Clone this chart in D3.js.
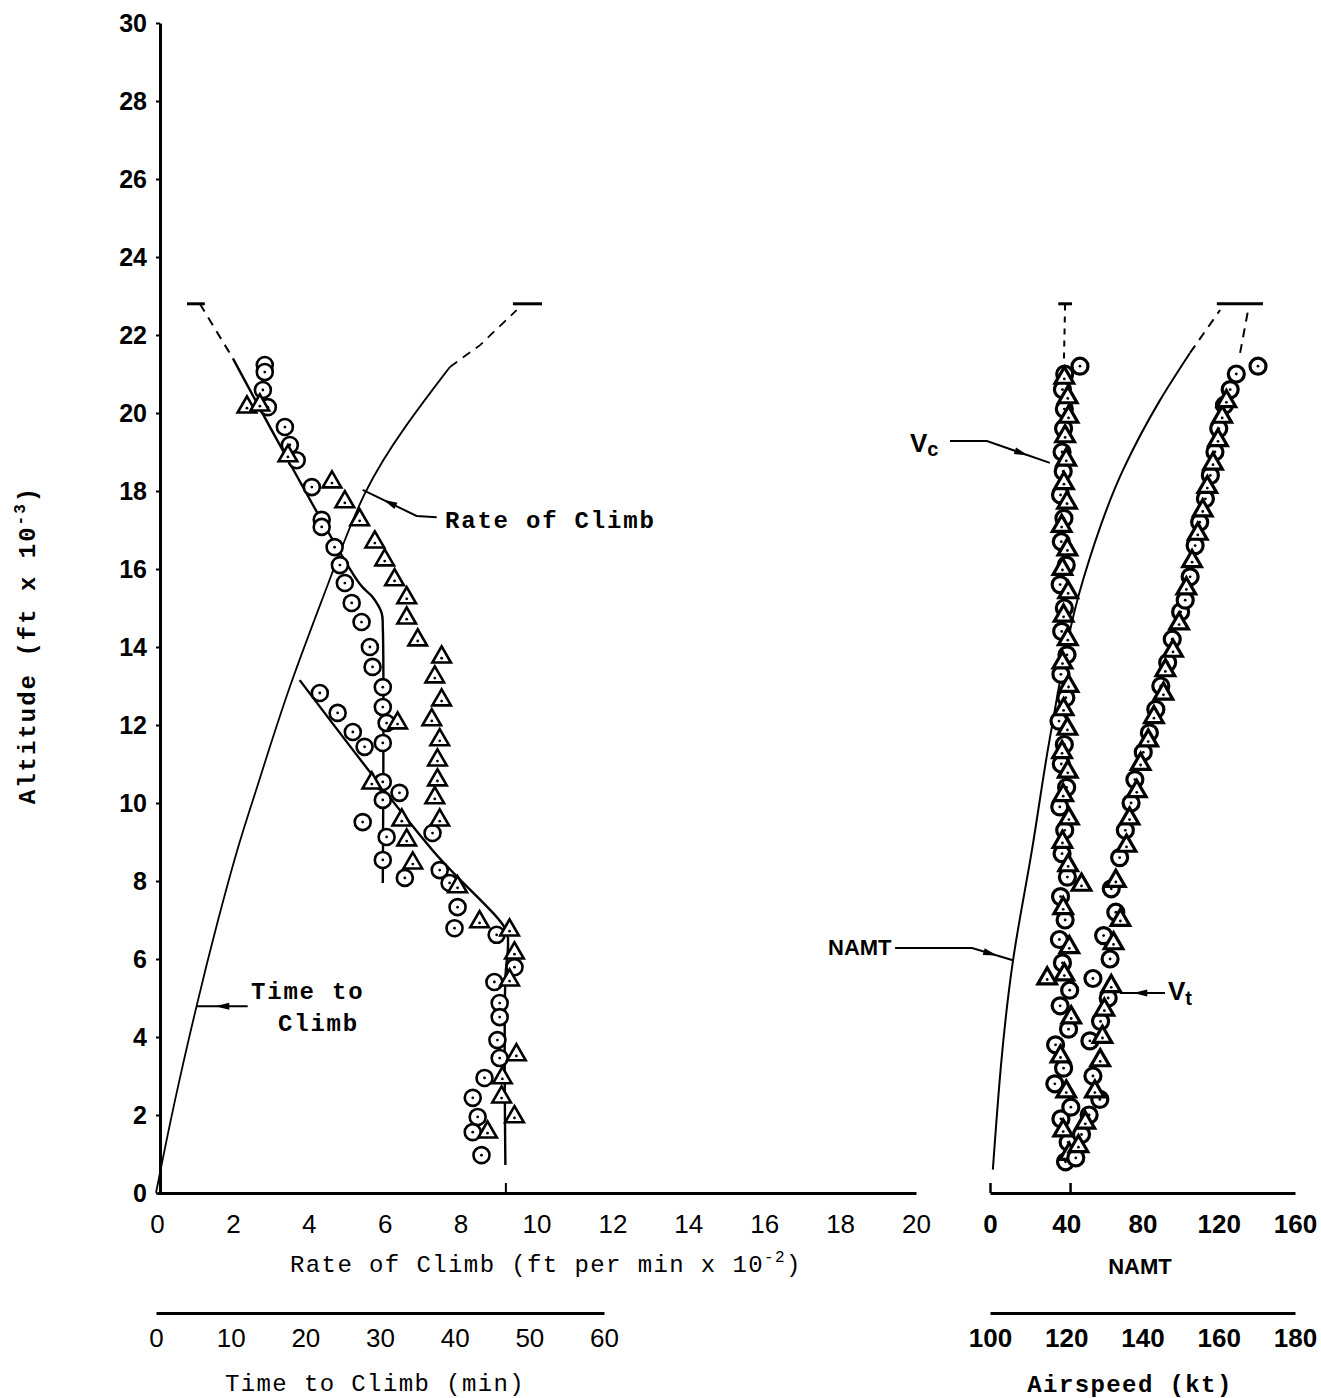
<!DOCTYPE html>
<html><head><meta charset="utf-8">
<script src="https://cdn.jsdelivr.net/npm/d3@7"></script>
<style>body{margin:0;background:#fff}</style>
</head><body><svg id="c" width="1321" height="1398"></svg>
<script>
// ---------- tick labels ----------
const altTicks  = [0,2,4,6,8,10,12,14,16,18,20,22,24,26,28,30];
const rateTicks = [0,2,4,6,8,10,12,14,16,18,20];
const timeTicks = [0,10,20,30,40,50,60];
const namtTicks = [0,40,80,120,160];
const airTicks  = [100,120,140,160,180];

// ---------- left panel: rate of climb (ft/min x 1e-2) vs altitude (ft x 1e-3) ----------
const rocUpperLine = [[2.0,21.4],[5.34,15.62],[5.68,15.28],[5.92,14.87],[5.95,14.5],[5.95,7.95]];
const rocUpperDash = [[1.13,22.8],[2.0,21.4]];
const rocUpperCap  = [[0.79,22.8],[1.26,22.8]];
const rocLowerLine = [[3.76,13.15],[7.26,8.79],[9.2,6.74],[9.25,6.4],[9.18,5.5],[9.18,0.72]];

const rocCircles = [
 [2.84,21.23],[2.84,21.05],[2.79,20.59],[2.92,20.15],[3.37,19.64],[3.5,19.18],[3.68,18.79],
 [4.08,18.10],[4.34,17.26],[4.34,17.08],[4.68,16.56],[4.82,16.10],[4.95,15.64],[5.13,15.13],
 [5.39,14.64],[5.61,14.0],[5.68,13.49],[5.95,12.97],[5.95,12.46],[6.05,12.05],[5.95,11.54],
 [5.95,10.54],[5.95,10.08],[5.42,9.51],[6.05,9.13],[5.95,8.54],
 [4.29,12.82],[4.76,12.31],[5.16,11.82],[5.47,11.44],[6.39,10.26],[7.26,9.23],[7.45,8.28],
 [6.53,8.08],[7.71,7.95],[7.92,7.33],[7.84,6.79],[8.95,6.62],[9.42,5.79],[8.89,5.41],
 [9.03,4.87],[9.03,4.51],[8.97,3.92],[9.03,3.46],[8.63,2.95],[8.32,2.44],[8.45,1.95],
 [8.32,1.56],[8.55,0.97]
];
const rocTriangles = [
 [2.37,20.15],[2.71,20.2],[3.45,18.9],[4.61,18.23],[4.95,17.72],[5.34,17.26],[5.74,16.69],
 [6.0,16.23],[6.26,15.72],[6.58,15.26],[6.58,14.74],[6.87,14.18],[7.5,13.74],[7.32,13.23],
 [7.5,12.64],[7.24,12.13],[7.45,11.62],[7.39,11.1],[7.39,10.59],[7.32,10.13],[7.45,9.56],
 [6.34,12.05],[5.66,10.51],[6.45,9.56],[6.58,9.05],[6.74,8.46],[7.92,7.85],[8.5,6.95],
 [9.29,6.74],[9.42,6.15],[9.29,5.46],[9.47,3.54],[9.1,2.95],[9.08,2.46],[9.42,1.95],[8.71,1.56]
];

// ---------- left panel: time to climb (min) ----------
const timeCurve = [[0,0],[2.28,2.2],[5.49,4.87],[8.17,6.92],[11.2,9.05],[13.4,10.3],[17.6,12.9],
 [23.29,15.72],[27.71,18.03],[33.6,19.74],[39.36,21.18]];
const timeDash = [[39.36,21.18],[43.4,21.74],[48.3,22.64]];
const timeCap  = [[47.8,22.8],[51.7,22.8]];

// ---------- right panel: NAMT and airspeed (kt) ----------
const namtCurve = [[1.5,0.6],[12.1,5.97],[22.0,8.79],[31.5,11.69],[48.8,15.72],[69.8,18.54],[89.2,20.33],[104.9,21.54]];
const namtDash  = [[104.9,21.54],[120.7,22.64]];
const vcDash = [[119.4,21.4],[119.7,22.8]];
const vcCap  = [[117.9,22.8],[121.5,22.8]];
const vtDash = [[165.6,21.54],[167.7,22.64]];
const vtCap  = [[159.5,22.8],[171.6,22.8]];

const vcCircles = [
 [119.8,0.8],[120.5,1.3],[118.6,1.9],[121.2,2.2],[117.0,2.8],[119.3,3.2],[117.2,3.8],[120.6,4.2],
 [118.4,4.8],[120.9,5.2],[119.0,5.9],[118.2,6.5],[119.7,7.0],[118.5,7.6],[120.3,8.1],[118.9,8.7],
 [119.6,9.3],[118.3,9.9],[120.1,10.4],[118.7,11.0],[119.5,11.5],[118.1,12.1],[119.9,12.7],[118.6,13.3],
 [120.2,13.8],[118.8,14.4],[119.5,15.0],[118.4,15.6],[120.0,16.1],[118.7,16.7],[119.4,17.3],[118.5,17.9],
 [119.2,18.5],[118.9,19.0],[119.3,19.6],[119.5,20.1],[119.0,20.6],[119.6,21.0],[123.6,21.2]
];
const vcTriangles = [
 [120.8,1.0],[119.2,1.6],[120.0,2.6],[118.5,3.5],[121.3,4.5],[119.5,5.6],[115.0,5.5],[120.8,6.3],
 [119.2,7.3],[124.0,7.9],[120.5,8.4],[119.0,9.0],[120.7,9.6],[119.2,10.2],[120.4,10.8],[118.9,11.3],
 [120.3,11.9],[119.3,12.4],[120.6,13.0],[119.0,13.6],[120.4,14.2],[119.3,14.8],[120.5,15.4],[119.0,16.0],
 [120.3,16.5],[118.8,17.1],[120.2,17.7],[119.4,18.2],[120.0,18.8],[119.7,19.4],[120.6,19.9],[120.4,20.4],[119.5,20.9]
];
const vtCircles = [
 [122.5,0.9],[124.0,1.5],[126.0,2.0],[128.8,2.4],[127.0,3.0],[126.2,3.9],[129.0,4.4],[131.0,5.0],
 [127.0,5.5],[131.5,6.0],[129.8,6.6],[133.0,7.2],[131.8,7.8],[134.0,8.6],[135.5,9.3],[137.0,10.0],
 [138.0,10.6],[140.2,11.3],[141.8,11.8],[143.5,12.4],[144.8,13.0],[146.6,13.6],[147.8,14.2],[150.0,14.9],
 [151.2,15.2],[152.5,15.8],[153.8,16.6],[155.0,17.2],[156.5,17.8],[157.8,18.4],[159.0,19.0],[160.0,19.6],
 [161.5,20.2],[163.0,20.6],[164.6,21.0],[170.3,21.2]
];
const vtTriangles = [
 [123.2,1.2],[125.0,1.8],[127.5,2.6],[128.9,3.4],[129.5,4.0],[130.0,4.7],[131.8,5.3],[132.4,6.4],
 [134.2,7.0],[133.0,8.0],[135.8,8.9],[136.6,9.6],[138.5,10.3],[139.5,11.0],[141.5,11.6],[143.0,12.2],
 [145.5,12.8],[146.0,13.4],[148.0,13.9],[149.6,14.6],[151.5,15.5],[153.0,16.2],[154.5,16.9],[155.8,17.5],
 [157.0,18.1],[158.5,18.7],[159.8,19.3],[160.9,19.9],[162.0,20.3]
];

// ---------- annotation leaders (data units) ----------
const rocLeader  = [[7.37,17.33],[6.84,17.36],[5.42,18.03]];   // rate units
const timeLeader = [[2.39,4.79],[1.05,4.79]];                  // rate units
const vcLeader   = [[89.5,19.28],[99.2,19.28],[115.7,18.72]];  // airspeed units
const namtLeader = [[75.1,6.28],[95.3,6.28],[106.0,5.97]];     // airspeed units
const vtLeader   = [[145.9,5.13],[134.1,5.13]];                // airspeed units

// ================= drawing =================
const svg = d3.select('#c');
const y  = d3.scaleLinear([0,30],[1193,23]);
const xR = d3.scaleLinear([0,20],[157,916]);
const xT = d3.scaleLinear([0,60],[156,604]);
const xN = d3.scaleLinear([0,160],[990,1295]);
const xA = d3.scaleLinear([100,180],[990,1295]);

const tickFont = "'Liberation Sans Narrow','Arial Narrow',sans-serif";
const monoFont = "'Liberation Mono','DejaVu Sans Mono',monospace";

function styleAxis(g, bold, size){
  g.select('.domain').attr('stroke','#000').attr('stroke-width',3);
  g.selectAll('.tick line').attr('stroke','#000').attr('stroke-width',2);
  g.selectAll('.tick text').attr('font-family',tickFont).attr('font-size',size)
    .attr('font-weight',bold?'bold':'normal').attr('fill','#000');
}

// left y axis
svg.append('g').attr('transform','translate(160,0)')
  .call(d3.axisLeft(y).tickValues(altTicks).tickSize(4).tickSizeOuter(0).tickPadding(9))
  .call(g=>styleAxis(g,true,25));

// left x axes
svg.append('g').attr('transform','translate(0,1193)')
  .call(d3.axisBottom(xR).tickValues(rateTicks).tickSize(0).tickPadding(22))
  .call(g=>styleAxis(g,false,26));
svg.append('g').attr('transform','translate(0,1193)')
  .call(d3.axisTop(xR).tickValues([9.18]).tickSize(10).tickSizeOuter(0).tickFormat(''))
  .call(g=>{g.select('.domain').remove(); g.selectAll('line').attr('stroke','#000').attr('stroke-width',2);});
svg.append('g').attr('transform','translate(0,1313)')
  .call(d3.axisBottom(xT).tickValues(timeTicks).tickSize(0).tickPadding(16))
  .call(g=>styleAxis(g,false,26));

// right x axes
svg.append('g').attr('transform','translate(0,1193)')
  .call(d3.axisBottom(xN).tickValues(namtTicks).tickSize(0).tickPadding(22))
  .call(g=>styleAxis(g,true,26));
svg.append('g').attr('transform','translate(0,1193)')
  .call(d3.axisTop(xN).tickValues([0,42]).tickSize(10).tickSizeOuter(0).tickFormat(''))
  .call(g=>{g.select('.domain').remove(); g.selectAll('line').attr('stroke','#000').attr('stroke-width',2.5);});
svg.append('g').attr('transform','translate(0,1313)')
  .call(d3.axisBottom(xA).tickValues(airTicks).tickSize(0).tickPadding(16))
  .call(g=>styleAxis(g,true,26));

// text helper (mono typewriter look)
function txt(x,yy,opt={}){
  return svg.append('text').attr('x',x).attr('y',yy)
    .attr('font-family',opt.font||monoFont).attr('font-size',opt.size||24)
    .attr('font-weight',opt.weight||'normal').attr('text-anchor',opt.anchor||'start')
    .attr('letter-spacing',opt.ls!=null?opt.ls:1.4).attr('fill','#000');
}
// axis titles
const rt = txt(290,1272);
rt.append('tspan').text('Rate of Climb (ft per min x 10');
rt.append('tspan').attr('font-size',16).attr('dy',-10).text('-2');
rt.append('tspan').attr('dy',10).text(')');
txt(375,1391,{anchor:'middle'}).text('Time to Climb (min)');
txt(1140,1274,{anchor:'middle',font:tickFont,weight:'bold',size:22,ls:0}).text('NAMT');
txt(1130,1392,{anchor:'middle',weight:'bold'}).text('Airspeed (kt)');

// y axis title (rotated)
const yt = svg.append('text').attr('transform','translate(35,645) rotate(-90)')
  .attr('font-family',monoFont).attr('font-weight','bold').attr('font-size',24)
  .attr('letter-spacing',2).attr('text-anchor','middle');
yt.append('tspan').text('Altitude (ft x 10');
yt.append('tspan').attr('font-size',16).attr('dy',-10).text('-3');
yt.append('tspan').attr('dy',10).text(')');

// lines
const lineR = d3.line().x(d=>xR(d[0])).y(d=>y(d[1]));
const lineRc = d3.line().curve(d3.curveCatmullRom).x(d=>xR(d[0])).y(d=>y(d[1]));
const lineT = d3.line().curve(d3.curveBasis).x(d=>xT(d[0])).y(d=>y(d[1]));
const lineTs = d3.line().x(d=>xT(d[0])).y(d=>y(d[1]));
const lineN = d3.line().curve(d3.curveMonotoneY).x(d=>xN(d[0])).y(d=>y(d[1]));
const lineA = d3.line().x(d=>xA(d[0])).y(d=>y(d[1]));

function path(d, w, dash){
  const p = svg.append('path').attr('d',d).attr('fill','none').attr('stroke','#000').attr('stroke-width',w);
  if(dash) p.attr('stroke-dasharray',dash);
  return p;
}
path(lineRc(rocUpperLine),2.4);
path(lineR(rocUpperDash),2,'9,7');
path(lineR(rocUpperCap),3);
path(lineRc(rocLowerLine),2.4);
path(lineT(timeCurve),1.8);
path(lineTs(timeDash),1.8,'9,7');
path(lineTs(timeCap),3);

path(lineN(namtCurve),2);
path(lineN(namtDash),2,'9,7');
path(lineA(vcDash),2,'6,6');
path(lineA(vcCap),3);
path(lineA(vtDash),2,'9,7');
path(lineA(vtCap),3);

// markers
function markers(data, sx, kind, sw){
  const g = svg.append('g');
  data.forEach(d=>{
    const cx = sx(d[0]), cy = y(d[1]);
    if(kind==='c'){
      g.append('circle').attr('cx',cx).attr('cy',cy).attr('r',8)
        .attr('fill','#fff').attr('stroke','#000').attr('stroke-width',sw);
    } else {
      g.append('path').attr('d',d3.symbol(d3.symbolTriangle,150)())
        .attr('transform',`translate(${cx},${cy})`)
        .attr('fill','#fff').attr('stroke','#000').attr('stroke-width',sw);
    }
    g.append('circle').attr('cx',cx).attr('cy',cy+(kind==='c'?0:1)).attr('r',1.4).attr('fill','#000');
  });
}
markers(rocCircles,xR,'c',2.6);
markers(rocTriangles,xR,'t',2.6);
markers(vcCircles,xA,'c',3.2);
markers(vcTriangles,xA,'t',3.2);
markers(vtCircles,xA,'c',3.2);
markers(vtTriangles,xA,'t',3.2);

// leaders with arrowheads
function leader(pts, sx, arrowSeg, frac){
  const P = pts.map(d=>[sx(d[0]),y(d[1])]);
  path(d3.line()(P),2);
  const a = P[arrowSeg], b = P[arrowSeg+1];
  const mx = a[0]+(b[0]-a[0])*frac, my = a[1]+(b[1]-a[1])*frac;
  const L = Math.hypot(b[0]-a[0],b[1]-a[1]), ux=(b[0]-a[0])/L, uy=(b[1]-a[1])/L;
  const len=14, w=3.5;
  const tip=[mx+ux*len/2,my+uy*len/2], base=[mx-ux*len/2,my-uy*len/2];
  svg.append('path').attr('d',`M${tip[0]},${tip[1]}L${base[0]-uy*w},${base[1]+ux*w}L${base[0]+uy*w},${base[1]-ux*w}Z`)
    .attr('fill','#000');
}
leader(rocLeader,xR,1,0.5);
leader(timeLeader,xR,0,0.5);
leader(vcLeader,xA,1,0.55);
leader(namtLeader,xA,1,0.45);
leader(vtLeader,xA,0,0.55);

// annotation text
txt(445,528,{weight:'bold',ls:1.8}).text('Rate of Climb');
txt(251,999,{weight:'bold',ls:1.8}).text('Time to');
txt(278,1031,{weight:'bold',ls:1.8}).text('Climb');
txt(828,955,{font:tickFont,weight:'bold',size:22,ls:0}).text('NAMT');
const vc = svg.append('text').attr('x',910).attr('y',452).attr('font-family',tickFont)
  .attr('font-weight','bold').attr('font-size',26);
vc.append('tspan').text('V');
vc.append('tspan').attr('font-size',20).attr('dy',4).text('c');
const vt = svg.append('text').attr('x',1168).attr('y',1000).attr('font-family',tickFont)
  .attr('font-weight','bold').attr('font-size',26);
vt.append('tspan').text('V');
vt.append('tspan').attr('font-size',20).attr('dy',5).text('t');
</script></body></html>
